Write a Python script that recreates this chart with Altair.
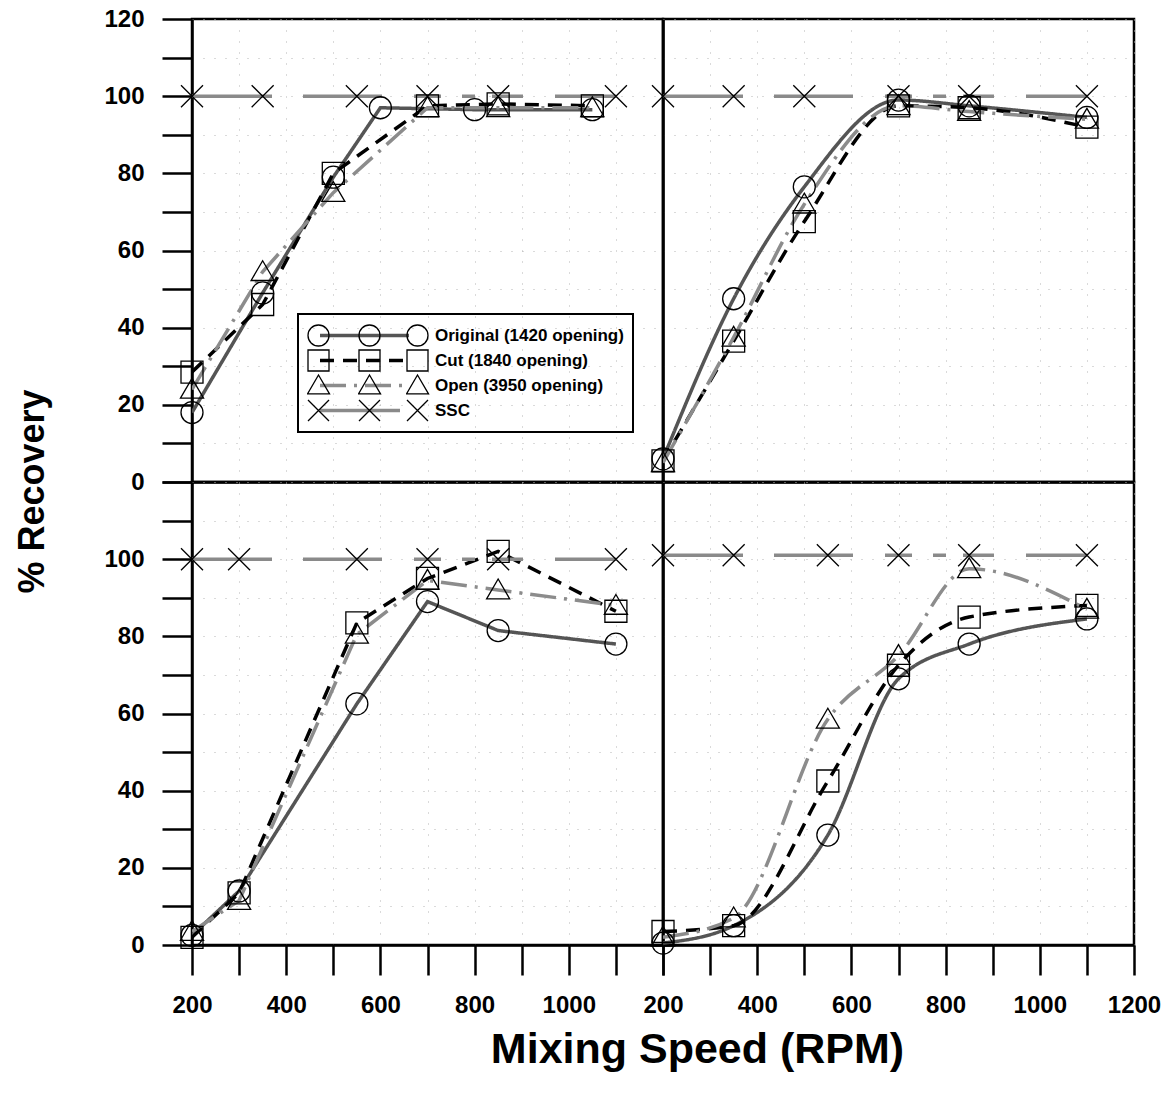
import altair as alt
import pandas as pd

SERIES = ["Original (1420 opening)", "Cut (1840 opening)", "Open (3950 opening)", "SSC"]
X_TICKS = [200, 300, 400, 500, 600, 700, 800, 900, 1000, 1100, 1200]
Y_TICKS = [0, 10, 20, 30, 40, 50, 60, 70, 80, 90, 100, 110, 120]

# ---- top-left panel ----
tl_orig_rpm = [200, 350, 500, 600, 800, 1050]
tl_orig = [18, 49, 79, 97, 96.5, 96.5]
tl_cut_rpm = [200, 350, 500, 700, 850, 1050]
tl_cut = [28.5, 46, 80, 97.5, 98, 97.5]
tl_open_rpm = [200, 350, 500, 700, 850, 1050]
tl_open = [24, 54.5, 75, 97, 97, 97]
tl_ssc_rpm = [200, 350, 550, 700, 850, 1100]
tl_ssc = [100, 100, 100, 100, 100, 100]

# ---- top-right panel ----
tr_rpm = [200, 350, 500, 700, 850, 1100]
tr_orig = [6, 47.5, 76.5, 99, 97.5, 94.5]
tr_cut = [5.5, 36.5, 67.5, 97.5, 97, 92]
tr_open = [5, 37.5, 72, 97.5, 96, 94]
tr_ssc = [100, 100, 100, 100, 100, 100]

# ---- bottom-left panel ----
bl_rpm = [200, 300, 550, 700, 850, 1100]
bl_orig = [2.5, 14, 62.5, 89, 81.5, 78]
bl_cut = [2, 13.5, 83.5, 95, 102, 86.5]
bl_open = [3.5, 11.5, 80.5, 94.5, 92, 88]
bl_ssc = [100, 100, 100, 100, 100, 100]

# ---- bottom-right panel ----
br_rpm = [200, 350, 550, 700, 850, 1100]
br_orig = [0.5, 5, 28.5, 69, 78, 84.5]
br_cut = [3.5, 5, 42.5, 72.5, 85, 88]
br_open = [2, 7, 58.5, 75, 97.5, 87]
br_ssc = [101, 101, 101, 101, 101, 101]

rows = []


def add(panel, series, xs, ys):
    for xv, yv in zip(xs, ys):
        rows.append({"panel": panel, "series": series, "rpm": xv, "value": yv})


add("tl", SERIES[0], tl_orig_rpm, tl_orig)
add("tl", SERIES[1], tl_cut_rpm, tl_cut)
add("tl", SERIES[2], tl_open_rpm, tl_open)
add("tl", SERIES[3], tl_ssc_rpm, tl_ssc)
add("tr", SERIES[0], tr_rpm, tr_orig)
add("tr", SERIES[1], tr_rpm, tr_cut)
add("tr", SERIES[2], tr_rpm, tr_open)
add("tr", SERIES[3], tr_rpm, tr_ssc)
add("bl", SERIES[0], bl_rpm, bl_orig)
add("bl", SERIES[1], bl_rpm, bl_cut)
add("bl", SERIES[2], bl_rpm, bl_open)
add("bl", SERIES[3], bl_rpm, bl_ssc)
add("br", SERIES[0], br_rpm, br_orig)
add("br", SERIES[1], br_rpm, br_cut)
add("br", SERIES[2], br_rpm, br_open)
add("br", SERIES[3], br_rpm, br_ssc)
df = pd.DataFrame(rows)

FONT = "Liberation Sans"
X_PATH = "M-1,-1L1,1M-1,1L1,-1"
TRI_PATH = "M0,-1L1.05,0.8L-1.05,0.8Z"
FRAME_W = 2.5

color_scale = alt.Scale(domain=SERIES, range=["#555555", "#000000", "#8c8c8c", "#8a8a8a"])
dash_scale = alt.Scale(domain=SERIES, range=[[1, 0], [14, 9], [26, 8, 3, 8],
                                              [80, 31, 79, 32, 27, 21, 13, 17, 31, 32, 200, 1]])
shape_scale = alt.Scale(domain=SERIES, range=["circle", "square", TRI_PATH, X_PATH])

grid_style = dict(grid=True, gridColor="#b4b4b4", gridDash=[1, 10], gridWidth=1)
lab_style = dict(labelFont=FONT, labelFontSize=24, labelFontWeight="bold", labelColor="black",
                 labelFlush=False, labelOverlap=False, format="d",
                 tickColor="black", tickWidth=2.5, domainColor="black", domainWidth=FRAME_W)

# inner panel edges: keep only the axis line (frame), no ticks or labels
x_hidden = alt.Axis(values=X_TICKS, labels=False, ticks=False, domain=True, domainColor="black",
                    domainWidth=FRAME_W, title=None, **grid_style)
y_hidden = alt.Axis(values=Y_TICKS, labels=False, ticks=False, domain=True, domainColor="black",
                    domainWidth=FRAME_W, title=None, **grid_style)


def x_bottom(max_label, title):
    if title:
        kw = dict(title="Mixing Speed (RPM)", titleFont=FONT, titleFontSize=43, titleFontWeight="bold",
                  titleColor="black", titleX=505, titleY=117, titleAlign="center",
                  titleBaseline="alphabetic")
    else:
        kw = dict(title=None)
    return alt.Axis(values=X_TICKS, tickSize=30, labelPadding=18,
                    labelExpr=f"datum.value % 200 == 0 && datum.value <= {max_label} ? datum.label : ''",
                    **kw, **grid_style, **lab_style)


def y_left(max_label, title):
    if title:
        kw = dict(title="% Recovery", titleFont=FONT, titleFontSize=36, titleFontWeight="bold",
                  titleColor="black", titleX=-160, titleY=472, titleAngle=270, titleAlign="center",
                  titleBaseline="middle")
    else:
        kw = dict(title=None)
    return alt.Axis(values=Y_TICKS, tickSize=30, labelPadding=18,
                    labelExpr=f"datum.value % 20 == 0 && datum.value <= {max_label} ? datum.label : ''",
                    **kw, **grid_style, **lab_style)


leg_common = dict(title=None, orient="none", clipHeight=25, rowPadding=0,
                  labelFont=FONT, labelFontSize=17, labelFontWeight="bold", labelColor="black",
                  labelLimit=400)

leg_main = alt.Legend(legendX=106, legendY=295, padding=9, strokeColor="black",
                      symbolSize=441, symbolStrokeWidth=1.3, symbolStrokeColor="black",
                      labelOffset=105, **leg_common)
leg_m2 = alt.Legend(legendX=166, legendY=304, padding=0, symbolSize=441, symbolStrokeWidth=1.3,
                    symbolStrokeColor="black", labelExpr="''", **leg_common)
leg_m3 = alt.Legend(legendX=214, legendY=304, padding=0, symbolSize=441, symbolStrokeWidth=1.3,
                    symbolStrokeColor="black", labelExpr="''", **leg_common)
leg_line = alt.Legend(legendX=126, legendY=304, padding=0, symbolSize=7921, symbolStrokeWidth=3.5,
                      labelExpr="''", **leg_common)


def panel(p, interp, xaxis, yaxis, with_legend=False):
    src = alt.Chart(df).transform_filter(alt.datum.panel == p)
    x = alt.X("rpm:Q", scale=alt.Scale(domain=[200, 1200], nice=False, zero=False), axis=xaxis)
    y = alt.Y("value:Q", scale=alt.Scale(domain=[0, 120], nice=False), axis=yaxis)
    line = src.mark_line(strokeWidth=3.5, interpolate=interp, clip=True).encode(
        x=x, y=y,
        color=alt.Color("series:N", scale=color_scale, legend=leg_line if with_legend else None),
        strokeDash=alt.StrokeDash("series:N", scale=dash_scale, legend=leg_line if with_legend else None),
    )
    pts = src.mark_point(filled=False, color="black", strokeWidth=1.3, size=484, opacity=1).encode(
        x=x, y=y,
        shape=alt.Shape("series:N", scale=shape_scale, legend=leg_main if with_legend else None),
    )
    layers = [line, pts]
    if with_legend:
        for lg in (leg_m2, leg_m3):
            empty = alt.Chart(df).transform_filter("false").mark_point(
                filled=False, color="black", strokeWidth=1.3, size=484, opacity=1).encode(
                x=x, y=y, shape=alt.Shape("series:N", scale=shape_scale, legend=lg))
            layers.append(empty)
    return alt.layer(*layers).resolve_scale(shape="independent").resolve_legend(
        shape="independent").properties(
        width=471, height=463,
        view=alt.ViewBackground(stroke="black", strokeWidth=FRAME_W))


tl = panel("tl", "linear", x_hidden, y_left(120, True), with_legend=True)
tr = panel("tr", "monotone", x_hidden, y_hidden)
bl = panel("bl", "linear", x_bottom(1000, True), y_left(100, False))
br = panel("br", "monotone", x_bottom(1200, False), y_hidden)

chart = alt.ConcatChart(concat=[tl, tr, bl, br], columns=2, spacing=0, bounds="flush").resolve_scale(
    x="independent", y="independent", color="independent", strokeDash="independent",
    shape="independent").resolve_legend(color="independent", strokeDash="independent",
                                        shape="independent").properties(
    padding={"left": 12, "top": 5, "right": 5, "bottom": 5},
    background="white",
).configure_view(stroke="black", strokeWidth=FRAME_W).configure_legend(strokeWidth=2)

chart.save("out.html", embed_options={"renderer": "svg", "actions": False})
